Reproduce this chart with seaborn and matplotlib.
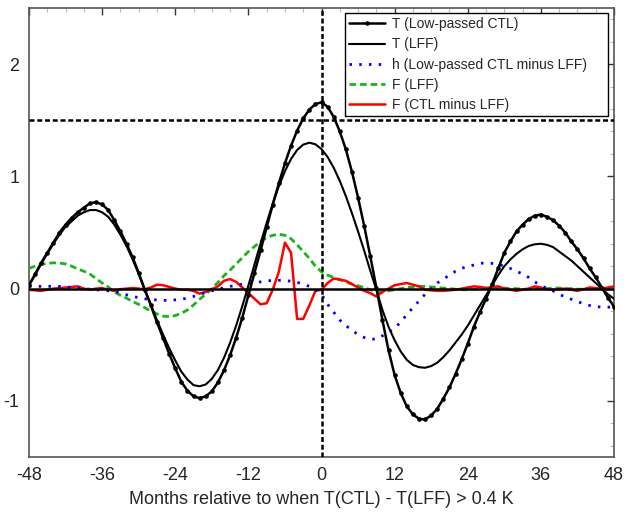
import numpy as np
import pandas as pd
import matplotlib
import matplotlib.pyplot as plt
from matplotlib.ticker import MultipleLocator
import seaborn as sns

# months relative to the event
months = list(range(-48, 49))

# T (Low-passed CTL)
t_ctl = [0.03, 0.13, 0.23, 0.32, 0.41, 0.50, 0.57, 0.63, 0.68, 0.72, 0.76, 0.77,
         0.75, 0.70, 0.61, 0.51, 0.40, 0.28, 0.14, -0.01, -0.15, -0.30, -0.44, -0.58, -0.71, -0.83, -0.91, -0.96, -0.975,
         -0.96, -0.915, -0.836, -0.728, -0.593, -0.436, -0.259, -0.06, 0.14, 0.34, 0.546, 0.748, 0.939, 1.116, 1.273, 1.408, 1.516, 1.595, 1.644, 1.66,
         1.62, 1.53, 1.40, 1.24, 1.04, 0.81, 0.56, 0.29, 0.01, -0.28, -0.55, -0.77, -0.93, -1.05, -1.12, -1.16, -1.165,
         -1.13, -1.07, -0.98, -0.88, -0.76, -0.63, -0.49, -0.34, -0.21, -0.09, 0.04, 0.18, 0.32, 0.42, 0.51, 0.57, 0.62, 0.65, 0.66,
         0.64, 0.61, 0.56, 0.50, 0.42, 0.35, 0.27, 0.18, 0.10, 0.01, -0.08, -0.16]

# T (LFF)
t_lff = [0.03, 0.12, 0.22, 0.31, 0.40, 0.48, 0.55, 0.60, 0.65, 0.68, 0.70, 0.70,
         0.68, 0.64, 0.57, 0.48, 0.38, 0.26, 0.13, -0.01, -0.14, -0.28, -0.41, -0.53, -0.64, -0.74, -0.81, -0.86, -0.87,
         -0.854, -0.804, -0.725, -0.616, -0.482, -0.328, -0.156, 0.027, 0.215, 0.403, 0.586, 0.758, 0.912, 1.046, 1.155, 1.235, 1.283, 1.30,
         1.286, 1.243, 1.173, 1.077, 0.960, 0.823, 0.671, 0.509, 0.340, 0.16, -0.01, -0.19, -0.34, -0.46, -0.56, -0.635, -0.68, -0.70,
         -0.705, -0.69, -0.66, -0.61, -0.55, -0.48, -0.41, -0.33, -0.24, -0.15, -0.06, 0.03, 0.12, 0.20, 0.26, 0.31,
         0.35, 0.38, 0.395, 0.40, 0.39, 0.37, 0.33, 0.29, 0.25, 0.20, 0.15, 0.10, 0.05, 0.0, -0.05, -0.09]

# h (Low-passed CTL minus LFF)
h_diff = [0.02, 0.02, 0.02, 0.02, 0.02, 0.02, 0.015, 0.01, 0.005, 0.0, -0.005, -0.01,
          -0.015, -0.02, -0.025, -0.04, -0.055, -0.07, -0.08, -0.09, -0.10, -0.10, -0.105, -0.105,
          -0.10, -0.095, -0.085, -0.07, -0.05, -0.035, -0.02, -0.01, 0.01, 0.02, 0.03, 0.04,
          0.05, 0.055, 0.06, 0.07, 0.072, 0.074, 0.074, 0.065, 0.056, 0.04, 0.02, -0.01,
          -0.05, -0.14, -0.21, -0.28, -0.33, -0.37, -0.41, -0.435, -0.45, -0.45, -0.42, -0.39,
          -0.35, -0.30, -0.23, -0.17, -0.11, -0.05, 0.0, 0.05, 0.085, 0.12, 0.155, 0.18,
          0.20, 0.21, 0.225, 0.23, 0.225, 0.215, 0.20, 0.18, 0.155, 0.13, 0.10, 0.06,
          0.03, 0.0, -0.02, -0.05, -0.075, -0.095, -0.115, -0.135, -0.15, -0.16, -0.165, -0.165, -0.165]

# F (LFF)
f_lff = [0.18, 0.20, 0.215, 0.225, 0.23, 0.228, 0.22, 0.20, 0.175, 0.155, 0.13, 0.09,
         0.05, 0.015, -0.03, -0.06, -0.085, -0.115, -0.14, -0.17, -0.20, -0.225, -0.245, -0.25,
         -0.24, -0.22, -0.19, -0.145, -0.095, -0.05, 0.0, 0.055, 0.115, 0.165, 0.22, 0.275,
         0.33, 0.375, 0.42, 0.455, 0.475, 0.485, 0.475, 0.445, 0.39, 0.33, 0.27, 0.20,
         0.15, 0.12, 0.10, 0.08, 0.06, 0.04, 0.025, 0.01, -0.01, -0.02, -0.03, -0.02,
         -0.01, 0.0, 0.01, 0.015, 0.02, 0.02, 0.015, 0.01, 0.005, 0.0, -0.005, -0.01,
         -0.01, -0.005, 0.0, 0.005, 0.005, 0.005, 0.005, 0.0, 0.0, -0.005, -0.005, 0.0,
         0.0, 0.0, 0.005, 0.005, 0.0, 0.0, -0.005, -0.005, 0.0, 0.0, 0.0, 0.0, 0.0]

# F (CTL minus LFF)
f_diff = [-0.01, -0.015, -0.02, -0.01, 0.0, 0.005, 0.01, 0.015, 0.02, 0.0, -0.01, 0.0,
          0.005, -0.01, -0.02, -0.005, 0.0, 0.005, 0.0, -0.005, 0.01, 0.035, 0.03, 0.015,
          0.0, -0.01, -0.01, -0.02, -0.045, -0.03, -0.005, 0.02, 0.07, 0.085, 0.06, 0.01,
          -0.04, -0.09, -0.14, -0.13, -0.01, 0.15, 0.41, 0.32, -0.27, -0.27, -0.15, -0.02,
          -0.01, 0.05, 0.09, 0.08, 0.07, 0.04, 0.01, -0.02, -0.04, -0.07, -0.03, 0.0,
          0.03, 0.04, 0.05, 0.035, 0.02, -0.01, -0.015, -0.02, -0.02, -0.015, -0.01, 0.0,
          0.01, 0.02, 0.015, 0.005, 0.015, 0.02, 0.0, -0.01, -0.02, -0.01, 0.0, 0.02,
          0.01, -0.005, -0.01, -0.005, 0.0, -0.01, -0.02, -0.005, 0.01, 0.005, 0.0, 0.01, 0.02]

xticks = [-48, -36, -24, -12, 0, 12, 24, 36, 48]
yticks = [-1, 0, 1, 2]
threshold = 1.5

df = pd.DataFrame({'month': months, 't_ctl': t_ctl, 't_lff': t_lff,
                   'h_diff': h_diff, 'f_lff': f_lff, 'f_diff': f_diff})

sns.set_style('white')
plt.rcParams['font.family'] = ['Liberation Sans', 'DejaVu Sans']

fig = plt.figure(figsize=(6.24, 5.13), dpi=100)
ax = fig.add_axes([29/624, 56/513, 585/624, 449/513])

# the five curves
sns.lineplot(data=df, x='month', y='t_ctl', color='black', lw=1.8, marker='o', markersize=3.3,
             markeredgewidth=0, label='T (Low-passed CTL)', ax=ax, zorder=5)
sns.lineplot(data=df, x='month', y='t_lff', color='black', lw=1.5, label='T (LFF)', ax=ax, zorder=5)
sns.lineplot(data=df, x='month', y='h_diff', color='#0000ff', lw=2,
             label='h (Low-passed CTL minus LFF)', ax=ax, zorder=4)
sns.lineplot(data=df, x='month', y='f_lff', color='#1db31d', lw=2,
             label='F (LFF)', ax=ax, zorder=3)
sns.lineplot(data=df, x='month', y='f_diff', color='#ff0000', lw=1.8,
             label='F (CTL minus LFF)', ax=ax, zorder=3)
ax.lines[2].set_dashes((0.9, 2.6))
ax.lines[3].set_dashes((2.4, 1.4))

# reference lines
ax.axhline(0, color='black', lw=1.8, zorder=4)
ax.axhline(threshold, color='black', lw=1.8, dashes=(2.0, 1.1), zorder=4)
ax.axvline(0, color='black', lw=1.8, dashes=(2.0, 1.1), zorder=4)

ax.set_xlim(-48, 48)
ax.set_ylim(-1.5, 2.5)
ax.set_xticks(xticks)
ax.set_xticklabels([str(t) for t in xticks])
ax.set_yticks(yticks)
ax.set_yticklabels([str(t) for t in yticks])
ax.xaxis.set_minor_locator(MultipleLocator(3))
ax.yaxis.set_minor_locator(MultipleLocator(0.2))
ax.tick_params(which='major', direction='in', top=True, right=True, length=5, width=1,
               color='#333333', labelsize=13, pad=7)
ax.tick_params(which='minor', direction='in', top=True, right=True, length=3, width=0.8,
               color='#bbbbbb')
for s in ax.spines.values():
    s.set_color('#555555')
    s.set_linewidth(1.2)

ax.set_xlabel('Months relative to when T(CTL) - T(LFF) > 0.4 K', fontsize=13, labelpad=5)
ax.set_ylabel('')

# legend box stretched like the original (extra room on the right)
leg = ax.legend(loc='upper left', bbox_to_anchor=(316/585, 0.0, 263/585, 444/449), mode='expand',
                fontsize=10, frameon=True, fancybox=False, framealpha=1,
                edgecolor='black', borderaxespad=0, handlelength=2.6, handletextpad=0.45,
                labelspacing=0.45, borderpad=0.3)
leg.get_frame().set_linewidth(1)
leg.set_zorder(10)

plt.savefig('out.png', dpi=100)
